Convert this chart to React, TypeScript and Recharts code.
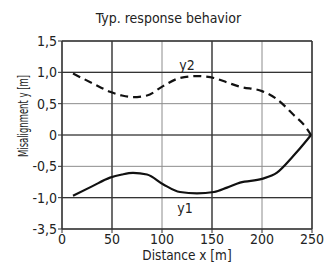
import React from 'react';
import { LineChart, Line, XAxis, YAxis, CartesianGrid, ReferenceLine, ReferenceDot } from 'recharts';

const distances = [11, 30, 48, 60, 71, 85, 101, 118, 135, 152, 165, 178, 200, 215, 231, 245, 249];
const y2Values = [0.98, 0.83, 0.69, 0.63, 0.605, 0.63, 0.78, 0.91, 0.94, 0.91, 0.84, 0.77, 0.70, 0.57, 0.33, 0.10, 0];
const y1Values = [-0.97, -0.82, -0.68, -0.63, -0.605, -0.63, -0.785, -0.91, -0.93, -0.91, -0.84, -0.76, -0.70, -0.60, -0.34, -0.08, 0];

const xTicks = [0, 50, 100, 150, 200, 250];
const yTicks = [-1.5, -1, -0.5, 0, 0.5, 1, 1.5];
const yTickLabels = ['-3,5', '-1,0', '-0,5', '0', '0,5', '1,0', '1,5'];

const data = distances.map((x, i) => ({ x, y1: y1Values[i], y2: y2Values[i] }));

const FONT = '"Liberation Sans Narrow", "Arial Narrow", "DejaVu Sans Condensed", sans-serif';
const DARK = '#333';
const GRAY = '#8c8c8c';
const TEXT = '#222';

const YAxisTitle = () => (
  <text
    x={22.5}
    y={116}
    transform="rotate(-90 22.5 116)"
    textAnchor="middle"
    dominantBaseline="central"
    textLength={82}
    lengthAdjust="spacingAndGlyphs"
    fill={TEXT}
    fontSize={14}
    fontFamily={FONT}
  >
    Misalignment y [m]
  </text>
);

export default function App() {
  return (
    <div style={{ position: 'absolute', left: 0, top: 0, width: 335, height: 262, background: '#fff', fontFamily: FONT }}>
      <div style={{ position: 'absolute', left: 0, top: 10, width: 337, textAlign: 'center', fontSize: 14, color: TEXT, lineHeight: '16px' }}>
        Typ. response behavior
      </div>
      <LineChart width={335} height={262} data={data} margin={{ top: 41, right: 23, left: 0, bottom: 0 }}>
        <CartesianGrid stroke={GRAY} strokeWidth={1} />
        <XAxis
          dataKey="x"
          type="number"
          domain={[0, 250]}
          ticks={xTicks}
          height={33}
          tickSize={4}
          tickMargin={1}
          axisLine={{ stroke: DARK, strokeWidth: 1.5 }}
          tickLine={{ stroke: DARK }}
          tick={{ fill: TEXT, fontSize: 14, fontFamily: FONT }}
          label={{ value: 'Distance x [m]', position: 'insideBottom', offset: 2, fill: TEXT, fontSize: 13.5, fontFamily: FONT }}
        />
        <YAxis
          type="number"
          domain={[-1.5, 1.5]}
          ticks={yTicks}
          width={62}
          tickSize={4}
          tickMargin={1}
          tickFormatter={(v: number) => yTickLabels[yTicks.indexOf(v)]}
          axisLine={{ stroke: DARK, strokeWidth: 1.5 }}
          tickLine={{ stroke: DARK }}
          tick={{ fill: TEXT, fontSize: 14, fontFamily: FONT }}
          label={{ content: () => <YAxisTitle /> }}
        />
        <ReferenceLine x={50} stroke={DARK} strokeWidth={1.2} />
        <ReferenceLine x={150} stroke={DARK} strokeWidth={1.2} />
        <ReferenceLine x={250} stroke={DARK} strokeWidth={1.5} />
        <ReferenceLine y={1.5} stroke={DARK} strokeWidth={1.5} />
        <ReferenceLine y={1} stroke={DARK} strokeWidth={1.2} />
        <ReferenceLine y={0} stroke={DARK} strokeWidth={1.2} />
        <ReferenceLine y={-1} stroke={DARK} strokeWidth={1.2} />
        <Line type="monotone" dataKey="y2" stroke="#111" strokeWidth={2.2} strokeDasharray="8 5" dot={false} isAnimationActive={false} />
        <Line type="monotone" dataKey="y1" stroke="#111" strokeWidth={2.2} dot={false} isAnimationActive={false} />
        <ReferenceDot x={125} y={1.12} r={0} fill="none" stroke="none" label={{ value: 'y2', position: 'center', fill: TEXT, fontSize: 14, fontFamily: FONT }} />
        <ReferenceDot x={123} y={-1.17} r={0} fill="none" stroke="none" label={{ value: 'y1', position: 'center', fill: TEXT, fontSize: 14, fontFamily: FONT }} />
      </LineChart>
    </div>
  );
}
